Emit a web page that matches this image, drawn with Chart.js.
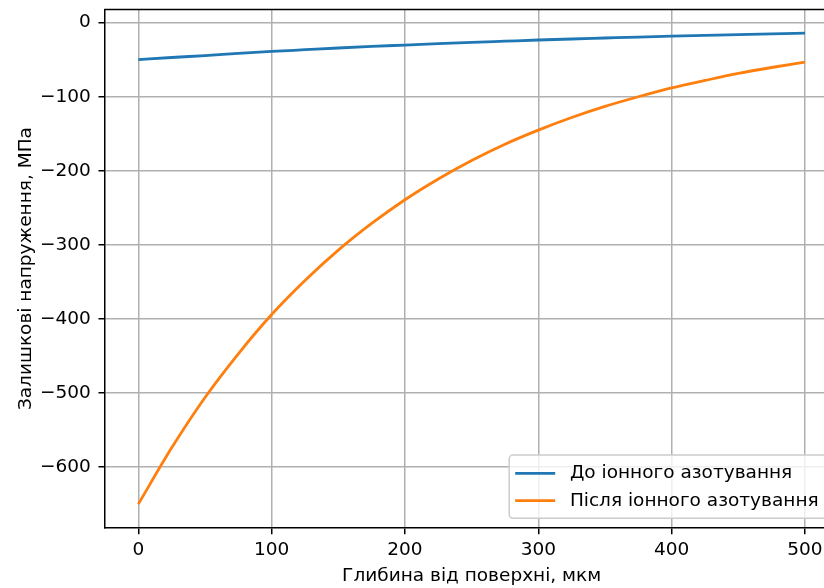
<!DOCTYPE html>
<html>
<head>
<meta charset="utf-8">
<script src="https://cdn.jsdelivr.net/npm/chart.js@4.4.0/dist/chart.umd.min.js"></script>
<style>
  html, body { margin: 0; padding: 0; overflow: hidden; background: #fff; }
  #wrap { width: 824px; height: 588px; overflow: hidden; position: relative; }
  canvas { display: block; position: absolute; left: 0; top: 0; }
</style>
</head>
<body>
<div id="wrap"><canvas id="chart" width="845" height="588"></canvas></div>
<script>
// depth below surface, um
const depth = [0, 25, 50, 75, 100, 125, 150, 175, 200, 225, 250, 275, 300, 325, 350, 375, 400, 425, 450, 475, 500];
// residual stress, MPa
const beforeNitriding = [-50, -47, -44.4, -41.5, -38.8, -36.5, -34.2, -32.1, -30.2, -28.3, -26.6, -25, -23.4, -22, -20.7, -19.4, -18.2, -17.1, -16, -15, -14.1];
const afterNitriding = [-650, -574, -506, -447, -394, -348, -307, -271, -239, -211, -186, -164, -145, -128, -113, -100, -88, -78, -68.5, -60.5, -53.3];
const seriesLabels = ['До іонного азотування', 'Після іонного азотування'];
const seriesColors = ['#1f77b4', '#ff7f0e'];
const xTicks = [0, 100, 200, 300, 400, 500];
const yTicks = [-600, -500, -400, -300, -200, -100, 0];

Chart.defaults.font.family = '"DejaVu Sans", sans-serif';
Chart.defaults.font.size = 18.5;
Chart.defaults.color = '#000';

const toPoints = vals => depth.map((d, i) => ({ x: d, y: vals[i] }));
const minus = v => v < 0 ? '\u2212' + Math.abs(v) : String(v);

// top spine (matplotlib frame)
const frame = {
    id: 'frame',
    afterDatasetsDraw(chart) {
        const ctx = chart.ctx, a = chart.chartArea;
        ctx.save();
        ctx.strokeStyle = '#000';
        ctx.lineWidth = 1.5;
        ctx.beginPath();
        ctx.moveTo(a.left - 0.75, a.top);
        ctx.lineTo(a.right + 0.75, a.top);
        ctx.stroke();
        ctx.restore();
    }
};

// legend in the lower right corner of the axes
const legendBox = {
    id: 'legendBox',
    afterDraw(chart) {
        const ctx = chart.ctx, a = chart.chartArea;
        const sets = chart.data.datasets;
        ctx.save();
        ctx.font = '18.5px "DejaVu Sans"';
        const textW = Math.max(...sets.map(d => ctx.measureText(d.label).width));
        const w = 6 + 40 + 14.7 + textW + 11;
        const h = 63.3;
        const right = a.right - 8.7, bottom = a.bottom - 9.4;
        const left = right - w, top = bottom - h;

        ctx.beginPath();
        ctx.roundRect(left, top, w, h, 4);
        ctx.fillStyle = 'rgba(255,255,255,0.8)';
        ctx.fill();
        ctx.strokeStyle = '#cccccc';
        ctx.lineWidth = 1.5;
        ctx.stroke();

        sets.forEach((d, i) => {
            const y = top + 18.3 + i * 27.4;
            ctx.beginPath();
            ctx.moveTo(left + 6, y);
            ctx.lineTo(left + 46, y);
            ctx.strokeStyle = d.borderColor;
            ctx.lineWidth = 2.8;
            ctx.stroke();
            ctx.fillStyle = '#000';
            ctx.textBaseline = 'middle';
            ctx.textAlign = 'left';
            ctx.fillText(d.label, left + 60.7, y);
        });
        ctx.restore();
    }
};

new Chart(document.getElementById('chart'), {
    type: 'line',
    data: {
        datasets: [
            {
                label: seriesLabels[0],
                data: toPoints(beforeNitriding),
                borderColor: seriesColors[0],
                borderWidth: 2.8,
                pointRadius: 0,
                cubicInterpolationMode: 'monotone'
            },
            {
                label: seriesLabels[1],
                data: toPoints(afterNitriding),
                borderColor: seriesColors[1],
                borderWidth: 2.8,
                pointRadius: 0,
                cubicInterpolationMode: 'monotone'
            }
        ]
    },
    options: {
        responsive: false,
        devicePixelRatio: 1,
        animation: false,
        // plot area runs past the right edge of the picture, as in the original
        layout: { padding: { top: 9.5, right: 6.7, left: 0, bottom: 0 } },
        plugins: {
            legend: { display: false },
            tooltip: { enabled: false }
        },
        scales: {
            x: {
                type: 'linear',
                min: -25,
                max: 525,
                afterBuildTicks: s => { s.ticks = xTicks.map(v => ({ value: v })); },
                afterFit: s => {
                    s.height = 60.3;
                    s.paddingLeft = 0; s.paddingRight = 0;
                },
                ticks: { padding: 5, maxRotation: 0, callback: minus },
                grid: { color: '#b0b0b0', lineWidth: 1.5, tickLength: 6.5, tickColor: '#000', tickWidth: 1.5 },
                border: { color: '#000', width: 1.5 },
                title: { display: true, text: 'Глибина від поверхні, мкм', padding: { top: 4, bottom: 0.6 } }
            },
            y: {
                type: 'linear',
                min: -681.8,
                max: 17.8,
                afterBuildTicks: s => { s.ticks = yTicks.map(v => ({ value: v })); },
                afterFit: s => {
                    s.width = 105;
                    s.paddingTop = 0; s.paddingBottom = 0;
                },
                ticks: { padding: 7.8, callback: minus },
                grid: { color: '#b0b0b0', lineWidth: 1.5, tickLength: 6.5, tickColor: '#000', tickWidth: 1.5 },
                border: { color: '#000', width: 1.5 },
                title: { display: true, text: 'Залишкові напруження, МПа', padding: { top: 15.5, bottom: 4 } }
            }
        }
    },
    plugins: [frame, legendBox]
});
</script>
</body>
</html>
